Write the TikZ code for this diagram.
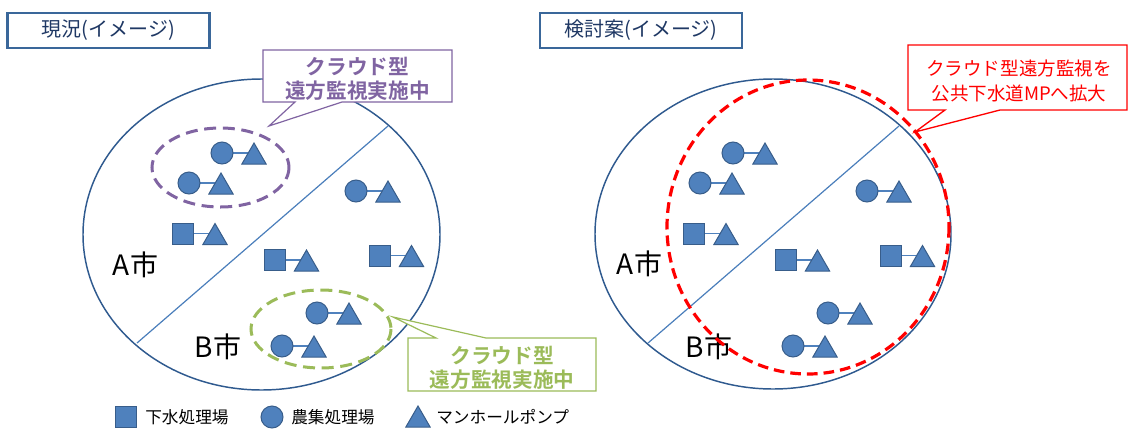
\documentclass[tikz,border=0pt]{standalone}
\usepackage{fontspec}
\setmainfont{Noto Sans CJK JP}[BoldFont={Noto Sans CJK JP Bold}]
\usetikzlibrary{shapes.geometric,backgrounds}
\definecolor{symfill}{HTML}{4F81BD}
\definecolor{symdraw}{HTML}{385D8A}
\definecolor{ellcol}{HTML}{2F5A8F}
\definecolor{divcol}{HTML}{4A7EBB}
\definecolor{mypurple}{HTML}{8064A2}
\definecolor{mygreen}{HTML}{9BBB59}
\definecolor{myred}{HTML}{FF0000}
\definecolor{titletext}{HTML}{1F3864}
\definecolor{titleframe}{HTML}{3A679A}
\tikzset{
  symb/.style={fill=symfill, draw=symdraw, line width=0.75pt, inner sep=0pt, outer sep=0pt},
  circ/.style={symb, circle, minimum size=16.5pt},
  sqr/.style={symb, rectangle, minimum size=15.75pt},
  tri/.style={symb, regular polygon, regular polygon sides=3, minimum size=21pt},
  link/.style={draw=symfill, line width=0.9pt},
  cityell/.style={draw=ellcol, line width=1.1pt},
  divline/.style={draw=divcol, line width=0.9pt},
  titlebox/.style={draw=titleframe, line width=1.6pt, fill=white, text=titletext,
    minimum width=151.5pt, minimum height=26.25pt, inner sep=0pt,
    font=\fontsize{15pt}{17pt}\selectfont},
  citylabel/.style={inner sep=0pt, font=\fontsize{21pt}{24pt}\selectfont},
  legtext/.style={anchor=west, inner sep=0pt, font=\fontsize{12.5pt}{15pt}\selectfont},
  calltext/.style={align=center, inner sep=0pt, font=\bfseries\fontsize{15.5pt}{18pt}\selectfont},
}
\newcommand\sympair[4]{%
  \node[#2] (#1a) at (#3,#4) {};
  \node[tri] (#1b) at ([shift={(32,4)}]#1a) {};
  \begin{pgfonlayer}{background}
    \draw[link] (#1a.center) -- (#1a.center -| #1b.center);
  \end{pgfonlayer}}
\begin{document}
\begin{tikzpicture}[x=0.75pt, y=-0.75pt]
\useasboundingbox (0,0) rectangle (1129,429);
% ---------- left: current ----------
\node[titlebox] (ltitle) at (108.5,30.5) {現況(イメージ)};
\draw[cityell] (261.5,234.5) ellipse [x radius=178.5, y radius=155.5];
\coordinate (ldivA) at (137,343);
\coordinate (ldivB) at (388,126);
\draw[divline] (ldivA) -- (ldivB);
\draw[mypurple, line width=2.25pt, dash pattern=on 9pt off 5pt] (220.5,167.5) ellipse [x radius=68.5, y radius=39.5];
\draw[mygreen, line width=2.25pt, dash pattern=on 9pt off 5pt] (321,329) ellipse [x radius=70, y radius=39];
\sympair{l1}{circ}{222}{153}
\sympair{l2}{circ}{189}{183}
\sympair{l3}{circ}{356}{191}
\sympair{l4}{sqr}{183}{233.5}
\sympair{l5}{sqr}{274.5}{260}
\sympair{l6}{sqr}{379.5}{255.5}
\sympair{l7}{circ}{317}{313}
\sympair{l8}{circ}{282}{346}
\node[citylabel] (lA) at (135.5,265) {A市};
\node[citylabel] (lB) at (218,347) {B市};
% purple callout
\coordinate (ptip) at (269,126);
\draw[mypurple, line width=0.9pt, fill=white] (263,50) -- (452,50) -- (452,102) -- (342,102) -- (ptip) -- (295,102) -- (263,102) -- cycle;
\node[calltext, text=mypurple] (ptext) at (357.5,79) {クラウド型\\遠方監視実施中};
% green callout
\coordinate (gtip) at (393,317);
\draw[mygreen, line width=0.9pt, fill=white] (408,338) -- (436,338) -- (gtip) -- (486,338) -- (596,338) -- (596,391) -- (408,391) -- cycle;
\node[calltext, text=mygreen] (gtext) at (502,367.5) {クラウド型\\遠方監視実施中};
% legend
\node[sqr] (legsq) at (125.5,417) {};
\node[legtext] (legsqt) at (145,417) {下水処理場};
\node[circ] (legci) at (272,417) {};
\node[legtext] (legcit) at (291,417) {農集処理場};
\node[tri] (legtr) at (418,420) {};
\node[legtext] (legtrt) at (436,417) {マンホールポンプ};
% ---------- right: proposal ----------
\node[titlebox] (rtitle) at (641,30.5) {検討案(イメージ)};
\draw[cityell] (773,234) ellipse [x radius=178, y radius=155];
\coordinate (rdivA) at (648,343);
\coordinate (rdivB) at (899,126);
\draw[divline] (rdivA) -- (rdivB);
\sympair{r1}{circ}{733}{153}
\sympair{r2}{circ}{700}{183}
\sympair{r3}{circ}{867}{191}
\sympair{r4}{sqr}{694}{233.5}
\sympair{r5}{sqr}{785.5}{260}
\sympair{r6}{sqr}{890.5}{255.5}
\sympair{r7}{circ}{828}{313}
\sympair{r8}{circ}{793}{346}
\node[citylabel] (rA) at (639.5,264) {A市};
\node[citylabel] (rB) at (709,347) {B市};
\draw[myred, line width=2.4pt, dash pattern=on 8pt off 4.5pt] (808,227) ellipse [x radius=141, y radius=147];
% red callout
\coordinate (rtip) at (915,132);
\draw[myred, line width=1pt, fill=white] (908,45) -- (1127,45) -- (1127,110) -- (1000,110) -- (rtip) -- (945,110) -- (908,110) -- cycle;
\node[align=center, inner sep=0pt, text=myred, font=\fontsize{13.9pt}{18.75pt}\selectfont] (rtext) at (1019,80.5) {クラウド型遠方監視を\\公共下水道MPへ拡大};
\end{tikzpicture}
\end{document}
